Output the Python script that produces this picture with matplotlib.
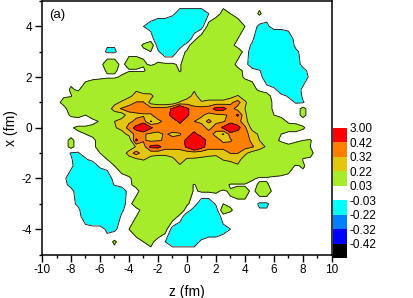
import numpy as np
import matplotlib
matplotlib.use('Agg')
import matplotlib.pyplot as plt

plt.rcParams['font.family'] = ['Liberation Sans', 'DejaVu Sans']
plt.rcParams['axes.unicode_minus'] = False

# grid, finer rows through the middle
z_vals = np.arange(-10, 10.5, 0.5)
x_vals = [5, 4.5, 4, 3.5, 3.25, 3, 2.5, 2.25, 2, 1.5, 1.25, 1, 0.75, 0.5, 0.25, 0,
          -0.25, -0.5, -0.75, -1, -1.25, -1.5, -2, -2.25, -2.5, -3, -3.25, -3.5, -4, -4.5, -5]

# density in units of 0.01, one row per x value
density = [
    [0,0,0,0,0, 0,0,0,0,0, 0,0,0,0,0, 0,0,0,0,0, 0,0,0,0,0, 0,0,0,0,0, 0,0,0,0,0, 0,0,0,0,0, 0],
    [0,0,0,0,0, 0,0,0,0,0, 0,0,0,0,0, 0,0,0,-2,-5, -5,-5,-5,-3,0, 5,3,0,0,0, 4,0,0,0,0, 0,0,0,0,0, 0],
    [0,0,0,0,0, 0,0,0,0,0, 0,0,0,0,-3, -5,-8,-8,-8,-8, -8,-8,-6,6,10, 10,10,8,3,0, -4.5,-4.5,0,0,0, 0,0,0,0,0, 0],
    [0,0,0,0,0, 0,0,0,0,0, 0,0,0,0,0, 0,-8,-10,-10,-10, -8,1,8,14,14, 14,10,3,0,-2, -8,-12,-12,-12,-8, 0,0,0,0,0, 0],
    [0,0,0,0,0, 0,0,0,0,-2.5, -2.5,0,0,0,4, 8,-6,-10,-10,-6, 0,8,14,14,14, 14,6,0,0,-4, -10,-14,-14,-12,-10, -1,0,0,0,0, 0],
    [0,0,0,0,0, 0,0,0,0,-4, -4,0,0,0,1.5, 3,-2,-8,-8,0, 4,8,14,14,14, 14,14,8,0,-6, -12,-15,-15,-12,-10, -5,0,0,0,0, 0],
    [0,0,0,0,0, 0,0,0,0,8, 8,0,8,8,4, 2,4,4,4,2, 8,14,14,14,14, 14,8,0,0,-8, -14,-16,-18,-15,-14, -8,0,0,0,0, 0],
    [0,0,0,0,0, 0,0,0,0,4, 4,1,1.5,1.5,1.5, 8,10,10,10,2, 8,14,14,14,14, 14,14,6,1,0, -2,-12,-16,-18,-16, -12,-6,0,0,0, 0],
    [0,0,0,0,0, 0,0,0,1,2, 2,4,14,14,14, 14,14,14,14,8, 14,14,14,14,14, 14,14,8,1,0, 0,-8,-18,-20,-18, -15,-8,-1,0,0, 0],
    [0,0,0,0,4, 2,8,14,14,14, 14,14,14,21,14, 14,14,14,14,14, 14,21,14,14,14, 14,14,14,14,8, 0,0,0,-10,-14, -8,-1,0,0,0, 0],
    [0,0,0,2,2.5, 8,14,14,14,14, 14,14,20,25,27, 26,14,14,14,14, 18,25,17,15,15, 15,18,23,16,14, 14,6,0,0,-4, -8,-2,0,0,0, 0],
    [0,0,0,6,8, 14,14,14,14,14, 18,24,28,32.5,32.5, 18,14,14,14,23, 27,26,23,26,26, 26,30,36,24,14, 14,8,1,0,0, -3.5,-3.5,0,0,0, 0],
    [0,0,0,0,8, 14,14,14,14,14, 28,33,36,36,36, 36,36,36,44,60, 44,36,36,36,46, 46,36,28,22,14, 14,8,1,0,0, 0,5,0,0,0, 0],
    [0,0,0,0,4, 5,3,8,14,14, 14,16,28,30,31, 31,36,36,46,58, 44,36,33,30,30, 31,33,44,24,14, 14,14,3,0,0, 0,5,0,0,0, 0],
    [0,0,0,0,0, 0,0,0,4,14, 22,27,30,34,36, 21,30,34,37,44, 37,32,30,33,30, 31,36,36,26,14, 14,14,14,8,1, 0,0,0,0,0, 0],
    [0,0,0,0,2.5, 4,4,6,14,14, 21,25,36,46,60, 44,36,37,37,38, 38,37,36,29,36, 44,60,46,34,18, 14,14,14,14,8, 8,4,0,0,0, 0],
    [0,0,0,0,0, 2,3,6,14,14, 14,18,25,36,33, 30,30,33,30,31, 37,45,37,36,29, 21,36,37,36,27, 20,14,14,3,0, 0,0,0,0,0, 0],
    [0,0,0,0,5, 0,0,0,8,14, 14,14,14,44,33, 30,31,33,35,36, 45,60,50,36,36, 30,31,36,36,30, 22,14,8,0,0, 1,3,3.5,0,0, 0],
    [0,0,0,0,5, 0,0,0,8,14, 14,14,14,23,28, 45,46,36,36,36, 44,60,47,36,36, 36,36,36,36,33, 28,20,14,14,5, 8,8,3,0,0, 0],
    [0,0,0,0,-3.5, -3.5,0,0,3,14, 14,14,27,36,27, 26,26,26,26,27, 27,26,26,26,26, 26,32.5,32.5,24,18, 14,14,14,14,14, 14,6,5,0,0, 0],
    [0,0,0,0,-2, -8,-4,0,0,3, 14,14,16,20,23, 18,15,15,20,26, 21,21,20,18,16, 23,26,25,18,14, 14,14,14,14,14, 14,2.5,2,0,0, 0],
    [0,0,0,0,-1, -8,-14,-10,0,0, 3,8,14,14,14, 14,14,14,14,21, 14,14,14,14,14, 14,14,21,14,14, 14,14,14,14,8, 2,4,0,0,0, 0],
    [0,0,0,-1,-8, -15,-18,-20,-18,-8, 0,0,1,8,14, 14,14,14,14,14, 14,14,14,14,14, 14,14,14,14,4, 2,2,1,0,0, 0,0,0,0,0, 0],
    [0,0,0,0,-6, -12,-16,-18,-16,-12, -2,0,1,6,14, 14,14,14,14,14, 8,2,10,10,10, 8,1.5,1.5,1.5,1, 4,4,0,0,0, 0,0,0,0,0, 0],
    [0,0,0,0,0, -8,-14,-15,-18,-16, -14,-8,0,0,8, 14,14,14,14,14, 8,2,4,4,4, 2,4,8,8,0, 8,8,0,0,0, 0,0,0,0,0, 0],
    [0,0,0,0,0, -5,-10,-12,-15,-15, -12,-6,0,8,14, 14,14,14,14,8, 4,0,-8,-8,-2, 3,1.5,0,0,0, -4,-4,0,0,0, 0,0,0,0,0, 0],
    [0,0,0,0,0, -1,-10,-12,-14,-14, -10,-4,0,0,6, 14,14,14,14,8, 0,-6,-10,-10,-6, 8,4,0,0,0, -2.5,-2.5,0,0,0, 0,0,0,0,0, 0],
    [0,0,0,0,0, 0,-8,-12,-12,-12, -8,-2,0,3,10, 14,14,14,8,1, -8,-10,-10,-10,-8, 0,0,0,0,0, 0,0,0,0,0, 0,0,0,0,0, 0],
    [0,0,0,0,0, 0,0,0,0,-4.5, -4.5,0,3,8,10, 10,10,6,-6,-8, -8,-8,-8,-8,-8, -5,-3,0,0,0, 0,0,0,0,0, 0,0,0,0,0, 0],
    [0,0,0,0,0, 0,0,0,0,0, 4,0,0,0,3, 5,0,-3,-5,-5, -5,-5,-2,0,0, 0,0,0,0,0, 0,0,0,0,0, 0,0,0,0,0, 0],
    [0,0,0,0,0, 0,0,0,0,0, 0,0,0,0,0, 0,0,0,0,0, 0,0,0,0,0, 0,0,0,0,0, 0,0,0,0,0, 0,0,0,0,0, 0],
]

levels = [-1.0, -0.42, -0.32, -0.22, -0.03, 0.03, 0.22, 0.32, 0.42, 3.0]
band_colors = ['#000000', '#0000ff', '#0080ff', '#00ffff', '#ffffff',
               '#a6ec2a', '#e3c60f', '#ff8000', '#ff0000']
z_ticks = [-10, -8, -6, -4, -2, 0, 2, 4, 6, 8, 10]
x_ticks = [-4, -2, 0, 2, 4]

W, H = 414, 298
fig = plt.figure(figsize=(W / 100, H / 100), dpi=100)
ax = fig.add_axes([42 / W, 1 - 254.5 / H, 290 / W, 253.5 / H])

# grid rows run top to bottom, contour wants them increasing
grid = np.array(density)[::-1] / 100
x_grid = np.array(x_vals)[::-1]

cs = ax.contourf(z_vals, x_grid, grid, levels=levels, colors=band_colors)
ax.contour(z_vals, x_grid, grid, levels=levels[1:-1], colors='#1a1a1a',
           linewidths=0.65, linestyles='solid')

ax.set_xlim(-10, 10)
ax.set_ylim(-5, 5)
ax.set_xticks(z_ticks)
ax.set_yticks(x_ticks)
ax.set_xticks(np.arange(-9, 10, 2), minor=True)
ax.set_yticks(np.arange(-5, 6, 2), minor=True)
ax.tick_params(which='major', length=5, width=1, labelsize=8.5, pad=2)
ax.tick_params(which='minor', length=2.5, width=1)
ax.set_xlabel('z (fm)', fontsize=10, labelpad=6)
ax.set_ylabel('x (fm)', fontsize=10, labelpad=3)
for sp in ax.spines.values():
    sp.set_linewidth(1.1)
ax.text(-9.5, 4.33, '(a)', fontsize=9.5)

# colour key sticks out below the axes
cax = fig.add_axes([333.5 / W, 1 - 258 / H, 13.5 / W, 130 / H])
cb = fig.colorbar(cs, cax=cax, ticks=levels[1:], format='%.2f')
cb.outline.set_visible(False)
cb.ax.tick_params(length=0, labelsize=8.5, pad=1.5)

fig.savefig('out.png', dpi=100)
